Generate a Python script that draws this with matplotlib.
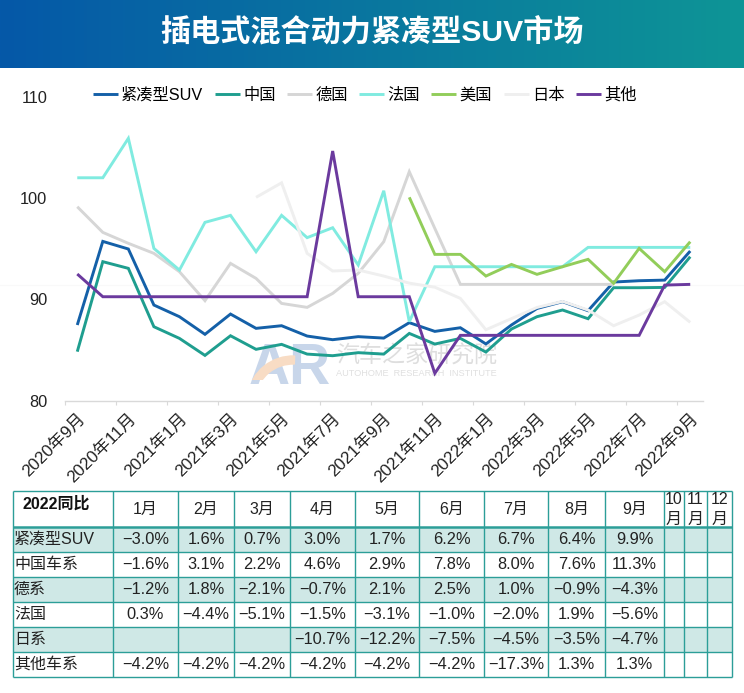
import numpy as np
import matplotlib
matplotlib.use('Agg')
import matplotlib.pyplot as plt
from matplotlib.colors import LinearSegmentedColormap
from matplotlib.patches import Rectangle, Wedge

plt.rcParams['font.family'] = ['Liberation Sans', 'Noto Sans CJK SC']
plt.rcParams['axes.unicode_minus'] = True

W, H = 744, 693
nan = np.nan

months = ['2020年9月', '2020年10月', '2020年11月', '2020年12月', '2021年1月', '2021年2月', '2021年3月',
          '2021年4月', '2021年5月', '2021年6月', '2021年7月', '2021年8月', '2021年9月', '2021年10月',
          '2021年11月', '2021年12月', '2022年1月', '2022年2月', '2022年3月', '2022年4月', '2022年5月',
          '2022年6月', '2022年7月', '2022年8月', '2022年9月']

compact = [87.47, 95.72, 94.97, 89.44, 88.29, 86.55, 88.55, 87.14, 87.4, 86.38, 86.02, 86.32, 86.18,
           87.7, 86.84, 87.2, 85.6, 87.47, 89.1, 89.77, 88.88, 91.71, 91.84, 91.9, 94.77]
china = [84.84, 93.72, 93.06, 87.3, 86.15, 84.47, 86.41, 85.07, 85.56, 84.6, 84.44, 84.74, 84.6,
         86.64, 85.59, 86.15, 84.8, 87.07, 88.29, 88.95, 88.09, 91.15, 91.15, 91.18, 94.21]
germany = [99.14, 96.61, 95.53, 94.54, 92.73, 89.87, 93.55, 92.07, 89.6, 89.21, 90.59, 92.57, 95.69,
           102.6, 97.0, 91.48, 91.48, 91.48, 91.48, 91.48, 91.48, 91.48, nan, nan, nan]
france = [102.0, 102.0, 105.89, 95.03, 92.89, 97.6, 98.29, 94.7, 98.29, 96.09, 97.07, 93.39, 100.72,
          87.8, 93.22, 93.22, 93.22, 93.22, 93.22, 93.22, 95.13, 95.13, 95.13, 95.13, 95.13]
usa = [nan] * 13 + [100.07, 94.44, 94.44, 92.3, 93.45, 92.47, 93.22, 93.95, 91.58, 95.03, 92.73, 95.69]
japan = [nan] * 7 + [100.07, 101.5, 94.54, 92.8, 92.9, 92.3, 91.6, 91.2, 90.1, 87.0, 88.1, 89.2,
                     89.8, 88.95, 87.4, 88.45, 89.77, 87.73]
other = [92.5, 90.26, 90.26, 90.26, 90.26, 90.26, 90.26, 90.26, 90.26, 90.26, 104.64, 90.26, 90.26,
         90.26, 82.7, 86.45, 86.45, 86.45, 86.45, 86.45, 86.45, 86.45, 86.45, 91.41, 91.48]

series_names = ['紧凑型SUV', '中国', '德国', '法国', '美国', '日本', '其他']
series_values = [compact, china, germany, france, usa, japan, other]
series_colors = ['#1460A8', '#1F9E8F', '#D6D6D6', '#80EBE0', '#92CD5A', '#EFEFEF', '#6B3A9E']

table_months = ['1月', '2月', '3月', '4月', '5月', '6月', '7月', '8月', '9月', '10\n月', '11\n月', '12\n月']
table_rows = ['紧凑型SUV', '中国车系', '德系', '法国', '日系', '其他车系']
table_vals = [
    ['−3.0%', '1.6%', '0.7%', '3.0%', '1.7%', '6.2%', '6.7%', '6.4%', '9.9%'],
    ['−1.6%', '3.1%', '2.2%', '4.6%', '2.9%', '7.8%', '8.0%', '7.6%', '11.3%'],
    ['−1.2%', '1.8%', '−2.1%', '−0.7%', '2.1%', '2.5%', '1.0%', '−0.9%', '−4.3%'],
    ['0.3%', '−4.4%', '−5.1%', '−1.5%', '−3.1%', '−1.0%', '−2.0%', '1.9%', '−5.6%'],
    ['', '', '', '−10.7%', '−12.2%', '−7.5%', '−4.5%', '−3.5%', '−4.7%'],
    ['−4.2%', '−4.2%', '−4.2%', '−4.2%', '−4.2%', '−4.2%', '−17.3%', '1.3%', '1.3%'],
]

# bordas da tabela em pixels da imagem
col_x = [13, 113, 178, 234, 290, 355, 419, 484, 548, 605, 664, 684, 707, 732]
row_y = [491, 527, 552, 577, 602, 627, 652, 677]

fig = plt.figure(figsize=(W / 100, H / 100), dpi=100, facecolor='white')

# fundo em coordenadas de pixel: cabecalho, marca d'agua, tabela
bg = fig.add_axes([0, 0, 1, 1], zorder=0)
bg.set_xlim(0, W)
bg.set_ylim(H, 0)
bg.axis('off')

grad = LinearSegmentedColormap.from_list('head', ['#0558A8', '#0E9596'])
bg.imshow(np.linspace(0, 1, 256)[None, :], extent=(0, W, 68, 0), cmap=grad, aspect='auto', zorder=1)
bg.set_xlim(0, W)
bg.set_ylim(H, 0)
bg.text(372, 33, '插电式混合动力紧凑型SUV市场', color='white', fontsize=21.7, fontweight='bold',
        ha='center', va='center', zorder=2)

bg.plot([0, W], [285, 285], color='#F9F9F9', lw=0.8, zorder=1)

# marca d'agua
clip = Rectangle((240, 335), 100, 45, transform=bg.transData)
logo = bg.text(290, 384, 'AR', color='#C8D6EA', fontsize=41, fontweight='bold', ha='center', va='baseline', zorder=1)
logo.set_clip_path(clip)
arc = Wedge((293, 402), 46, 190, 272, width=8, color='#F8DCC4', zorder=1.5)
bg.add_patch(arc)
arc.set_clip_path(clip)
bg.text(336, 356, '汽车之家研究院', color='#DEDEDE', fontsize=16.6, ha='left', va='center', zorder=1)
bg.text(336, 374, 'AUTOHOME  RESEARCH  INSTITUTE', color='#E0E0E0', fontsize=6.6, ha='left', va='center', zorder=1)

# tabela
teal = '#2C9E98'
for i in range(len(table_rows)):
    if i % 2 == 0:
        bg.add_patch(Rectangle((col_x[0], row_y[i + 1]), col_x[-1] - col_x[0], row_y[i + 2] - row_y[i + 1],
                               facecolor='#CFE8E6', edgecolor='none', zorder=1))
for x in col_x:
    bg.plot([x, x], [row_y[0], row_y[-1]], color=teal, lw=1.0, zorder=2, solid_capstyle='butt')
for j, y in enumerate(row_y):
    bg.plot([col_x[0], col_x[-1]], [y, y], color=teal, lw=1.8 if j == 1 else 1.0, zorder=2, solid_capstyle='butt')

bg.text(56, 504, '2022同比', fontsize=11.5, fontweight='bold', ha='center', va='center',
        color='#111111', zorder=3)
for k, m in enumerate(table_months):
    xc = (col_x[k + 1] + col_x[k + 2]) / 2
    if '\n' in m:
        top_txt, bottom_txt = m.split('\n')
        bg.text(xc, 500, top_txt, fontsize=11.5, ha='center', va='center', color='#222222', zorder=3)
        bg.text(xc, 519, bottom_txt, fontsize=11.5, ha='center', va='center', color='#222222', zorder=3)
    else:
        bg.text(xc, 509, m, fontsize=11.5, ha='center', va='center', color='#222222', zorder=3)
for i, name in enumerate(table_rows):
    yc = (row_y[i + 1] + row_y[i + 2]) / 2
    bg.text(col_x[0] + 1, yc, name, fontsize=11.5, ha='left', va='center', color='#222222', zorder=3)
    for k, v in enumerate(table_vals[i]):
        bg.text((col_x[k + 1] + col_x[k + 2]) / 2, yc, v, fontsize=11.8, ha='center', va='center',
                color='#222222', zorder=3)

# grafico de linhas
left, right, top, bottom = 64.5, 703, 96.7, 400.7
ax = fig.add_axes([left / W, 1 - bottom / H, (right - left) / W, (bottom - top) / H], zorder=1)
ax.patch.set_alpha(0)
xs = np.arange(len(months))
for name, vals, c in zip(series_names, series_values, series_colors):
    ax.plot(xs, vals, color=c, lw=2.1, label=name, solid_joinstyle='miter', solid_capstyle='butt')

ax.set_xlim(-0.5, len(months) - 0.5)
ax.set_ylim(80, 110)
ax.set_yticks([80, 90, 100, 110])
ax.tick_params(axis='y', length=0, pad=12.5, labelsize=11.8, labelcolor='#222222')
ax.set_xticks(xs[::2])
ax.set_xticklabels(months[::2], rotation=45, ha='right', rotation_mode='anchor', fontsize=12.3, color='#222222')
ax.set_xticks(np.arange(-0.5, len(months), 2), minor=True)
ax.tick_params(axis='x', which='major', length=0, pad=7)
ax.tick_params(axis='x', which='minor', length=3, width=0.8, color='#D9D9D9')
for s in ['top', 'right', 'left']:
    ax.spines[s].set_visible(False)
ax.spines['bottom'].set_color('#D9D9D9')
ax.spines['bottom'].set_linewidth(1.0)

ax.legend(loc='center left', bbox_to_anchor=(93 / W, 1 - 95 / H), bbox_transform=fig.transFigure, ncols=7,
          frameon=False, fontsize=11.7, handlelength=1.54, handletextpad=0.2, columnspacing=0.7,
          borderpad=0, borderaxespad=0)

fig.savefig('out.png', dpi=100)
